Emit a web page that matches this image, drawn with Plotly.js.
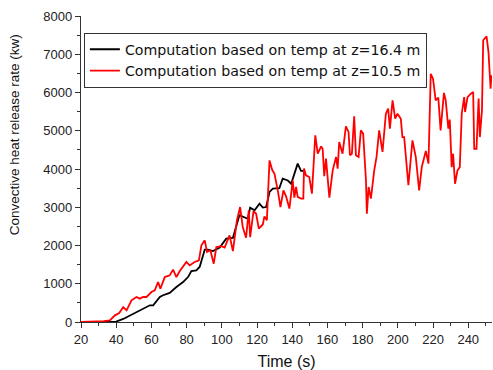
<!DOCTYPE html>
<html>
<head>
<meta charset="utf-8">
<script src="https://cdn.plot.ly/plotly-3.0.1.min.js"></script>
<style>
  html, body { margin: 0; padding: 0; background: #fff; }
  #chart { width: 493px; height: 370px; }
</style>
</head>
<body>
<div id="chart"></div>
<script>
// Convective heat release rate computed from temperatures at two heights
const timeUpper = [20, 30, 39.3, 44, 49.6, 55.3, 59.1, 61, 64.8, 66.6, 70.4, 74.2, 78, 80.8, 82.7, 85.5, 87.4, 90.3, 92.1, 95, 98.8, 102.5, 106.3, 110, 111.9, 114.8, 116.1, 118.6, 121.4, 123.3, 125.2, 127.1, 129, 132.7, 134.6, 137.5, 139.4, 141.2, 143.1, 145, 146.3];
const hrrUpper = [0, 0, 0, 80, 218, 350, 436, 436, 654, 700, 760, 915, 1045, 1175, 1333, 1350, 1440, 1890, 1890, 1855, 1945, 2180, 2200, 2790, 2760, 2700, 2990, 2920, 3095, 2990, 3005, 3400, 3486, 3500, 3750, 3700, 3615, 3880, 4140, 3950, 3950];

const timeLower = [20, 28, 33, 36.4, 39.3, 41.7, 44, 45.9, 48.7, 51.5, 53.4, 55.3, 57.2, 60, 61.9, 63.8, 65.1, 67.6, 70.4, 72.3, 74.2, 76.1, 78, 79.9, 81.7, 84.6, 87, 88.4, 90.3, 91.6, 93.5, 95.4, 96.9, 99.7, 101.6, 104.4, 106.3, 108.6, 110.4, 111.9, 113.8, 115.3, 116.1, 118, 119.5, 121, 123.3, 124.2, 125.6, 127.1, 128.6, 129.9, 131.8, 133.3, 135, 136.5, 138.4, 140.3, 141.2, 142.2, 143.1, 145, 146.3, 146.7, 147.8, 149.7, 151.2, 153.1, 154.5, 156.4, 157.3, 158.2, 159.2, 161.1, 163, 164.9, 165.8, 166.7, 168.6, 170.5, 172, 172.8, 173.9, 175.2, 176.2, 177.7, 179, 180.3, 181.9, 182.4, 183.4, 184.7, 186.6, 187.9, 189.4, 191.3, 193.2, 194.5, 195.5, 197, 198.5, 199.8, 201.7, 202.6, 203.6, 204.9, 206, 208.3, 210.2, 212.1, 213.6, 215.9, 217.4, 218.7, 220, 221.5, 223, 224.3, 226.2, 227.2, 228.7, 229.5, 230.6, 231.4, 232.5, 233.9, 235.2, 236.3, 237.7, 238.2, 239.6, 241.5, 242.8, 243.4, 244.7, 245.9, 246.6, 247.8, 248.5, 250.4, 251.5, 252.7, 253.2];
const hrrLower = [0, 5, 25, 44, 174, 235, 390, 305, 566, 654, 610, 654, 654, 784, 828, 1045, 870, 1175, 1220, 1370, 1175, 1333, 1440, 1570, 1480, 1570, 1610, 2005, 2135, 1830, 1875, 1525, 1960, 1980, 1945, 2265, 1855, 2660, 3005, 2485, 2205, 2920, 2220, 2900, 2830, 2440, 2550, 2760, 2660, 4225, 3980, 3880, 3440, 3005, 3440, 3285, 2965, 3700, 3250, 3530, 3270, 3225, 3225, 4010, 3835, 3790, 3355, 4880, 4400, 4590, 4530, 3810, 4270, 3250, 3965, 4315, 4010, 4705, 4400, 5115, 4970, 4360, 4400, 5380, 4360, 4315, 5010, 4925, 3700, 2830, 3530, 3225, 3965, 4315, 5010, 4445, 5445, 5580, 5055, 5795, 5315, 5445, 5315, 4835, 4835, 4225, 3575, 4750, 4315, 3440, 4050, 4470, 4140, 6490, 6360, 5795, 5865, 5010, 5990, 5795, 5055, 5290, 4050, 4400, 3615, 3965, 4050, 5445, 5880, 5490, 5880, 5970, 6010, 4530, 4530, 5840, 4835, 5535, 7365, 7470, 7060, 6100, 6450];

const seriesNames = ['Computation based on temp at z=16.4 m', 'Computation based on temp at z=10.5 m'];
const xTicks = [20, 40, 60, 80, 100, 120, 140, 160, 180, 200, 220, 240];
const yTicks = [0, 1000, 2000, 3000, 4000, 5000, 6000, 7000, 8000];
const yTitle = 'Convective heat release rate (kw)';

const fontFamily = 'Liberation Sans, Arial, sans-serif';

const traces = [
  { x: timeUpper, y: hrrUpper, name: seriesNames[0], mode: 'lines',
    line: { color: '#000000', width: 1.8 } },
  { x: timeLower, y: hrrLower, name: seriesNames[1], mode: 'lines',
    line: { color: '#ff0000', width: 1.8 } }
];

const axisCommon = {
  showline: true, linecolor: '#333', linewidth: 1.2,
  ticks: 'outside', ticklen: 5, tickcolor: '#333', tickwidth: 1,
  showgrid: false, zeroline: false,
  tickfont: { family: fontFamily, size: 13, color: '#222' },
  mirror: false
};

const layout = {
  width: 493, height: 370,
  margin: { l: 81, r: 1, t: 16, b: 48 },
  paper_bgcolor: '#fff', plot_bgcolor: '#fff',
  showlegend: true,
  legend: {
    x: 0.007, y: 0.946, xanchor: 'left', yanchor: 'top',
    bgcolor: '#fff', bordercolor: '#333', borderwidth: 1,
    font: { family: 'DejaVu Sans, sans-serif', size: 14.2, color: '#111' },
    tracegroupgap: 0
  },
  xaxis: Object.assign({}, axisCommon, {
    range: [20, 253.5], tickvals: xTicks, ticktext: xTicks.map(String),
    minor: { dtick: 10, tick0: 0, ticks: 'outside', ticklen: 3, tickcolor: '#333' },
    title: { text: 'Time (s)', font: { family: fontFamily, size: 16, color: '#111' }, standoff: 10 }
  }),
  yaxis: Object.assign({}, axisCommon, {
    range: [0, 8000], tickvals: yTicks, ticktext: yTicks.map(String),
    minor: { dtick: 500, tick0: 0, ticks: 'outside', ticklen: 3, tickcolor: '#333' }
  }),
  annotations: [{
    text: yTitle, textangle: -90, showarrow: false,
    xref: 'paper', yref: 'paper', x: -0.161, y: 0.613,
    xanchor: 'center', yanchor: 'middle',
    font: { family: fontFamily, size: 13.5, color: '#111' }
  }]
};

Plotly.newPlot('chart', traces, layout, { displayModeBar: false, staticPlot: true });
</script>
</body>
</html>
